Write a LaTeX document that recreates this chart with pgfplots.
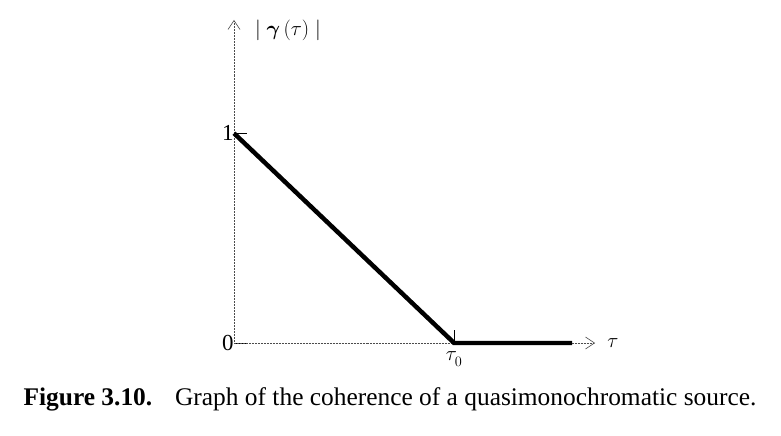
\documentclass[border=0pt]{standalone}
\usepackage{pgfplots}
\pgfplotsset{compat=1.18}
\usepackage{fontspec}
\setmainfont{Liberation Serif}
\usepackage{bm}
\usetikzlibrary{arrows.meta}
\begin{document}
\begin{tikzpicture}
\path[use as bounding box] (0,0) rectangle (781bp,436bp);
\begin{axis}[
  at={(234bp,93bp)}, anchor=south west,
  scale only axis, width=361bp, height=323bp,
  xmin=0, xmax=1.64, ymin=0, ymax=1.54,
  axis lines=left,
  axis line style={black!70, line width=0.5pt, densely dotted, -{Straight Barb[length=9bp, width=12bp, line width=0.6pt]}},
  xtick={1}, xticklabels={$\tau_{\raisebox{-3bp}{$\scriptstyle 0$}}$},
  ytick={0,1}, yticklabels={0,1},
  tick align=inside, major tick length=13bp,
  tick style={black, line width=0.6pt, solid},
  xticklabel style={yshift=-5bp, font=\fontsize{21}{24}\selectfont},
  yticklabel style={xshift=3bp, font=\fontsize{23}{26}\selectfont},
  /pgf/number format/assume math mode=true,
  clip=false,
]
\addplot[black, line width=4.5pt, line join=miter, line cap=butt] coordinates {(0,1) (1,0) (1.536,0)};
\node[anchor=west, font=\fontsize{21}{24}\selectfont] at (axis cs:0.08,1.49) {$|\;\bm{\gamma}\,(\tau)\;|$};
\node[anchor=west, font=\fontsize{21}{24}\selectfont] at (axis cs:1.68,0) {$\tau$};
\end{axis}
\node[anchor=base, font=\fontsize{25.5}{30}\selectfont] at (390bp,31bp) {\textbf{Figure 3.10.}\hspace{0.9em}Graph of the coherence of a quasimonochromatic source.};
\end{tikzpicture}
\end{document}
